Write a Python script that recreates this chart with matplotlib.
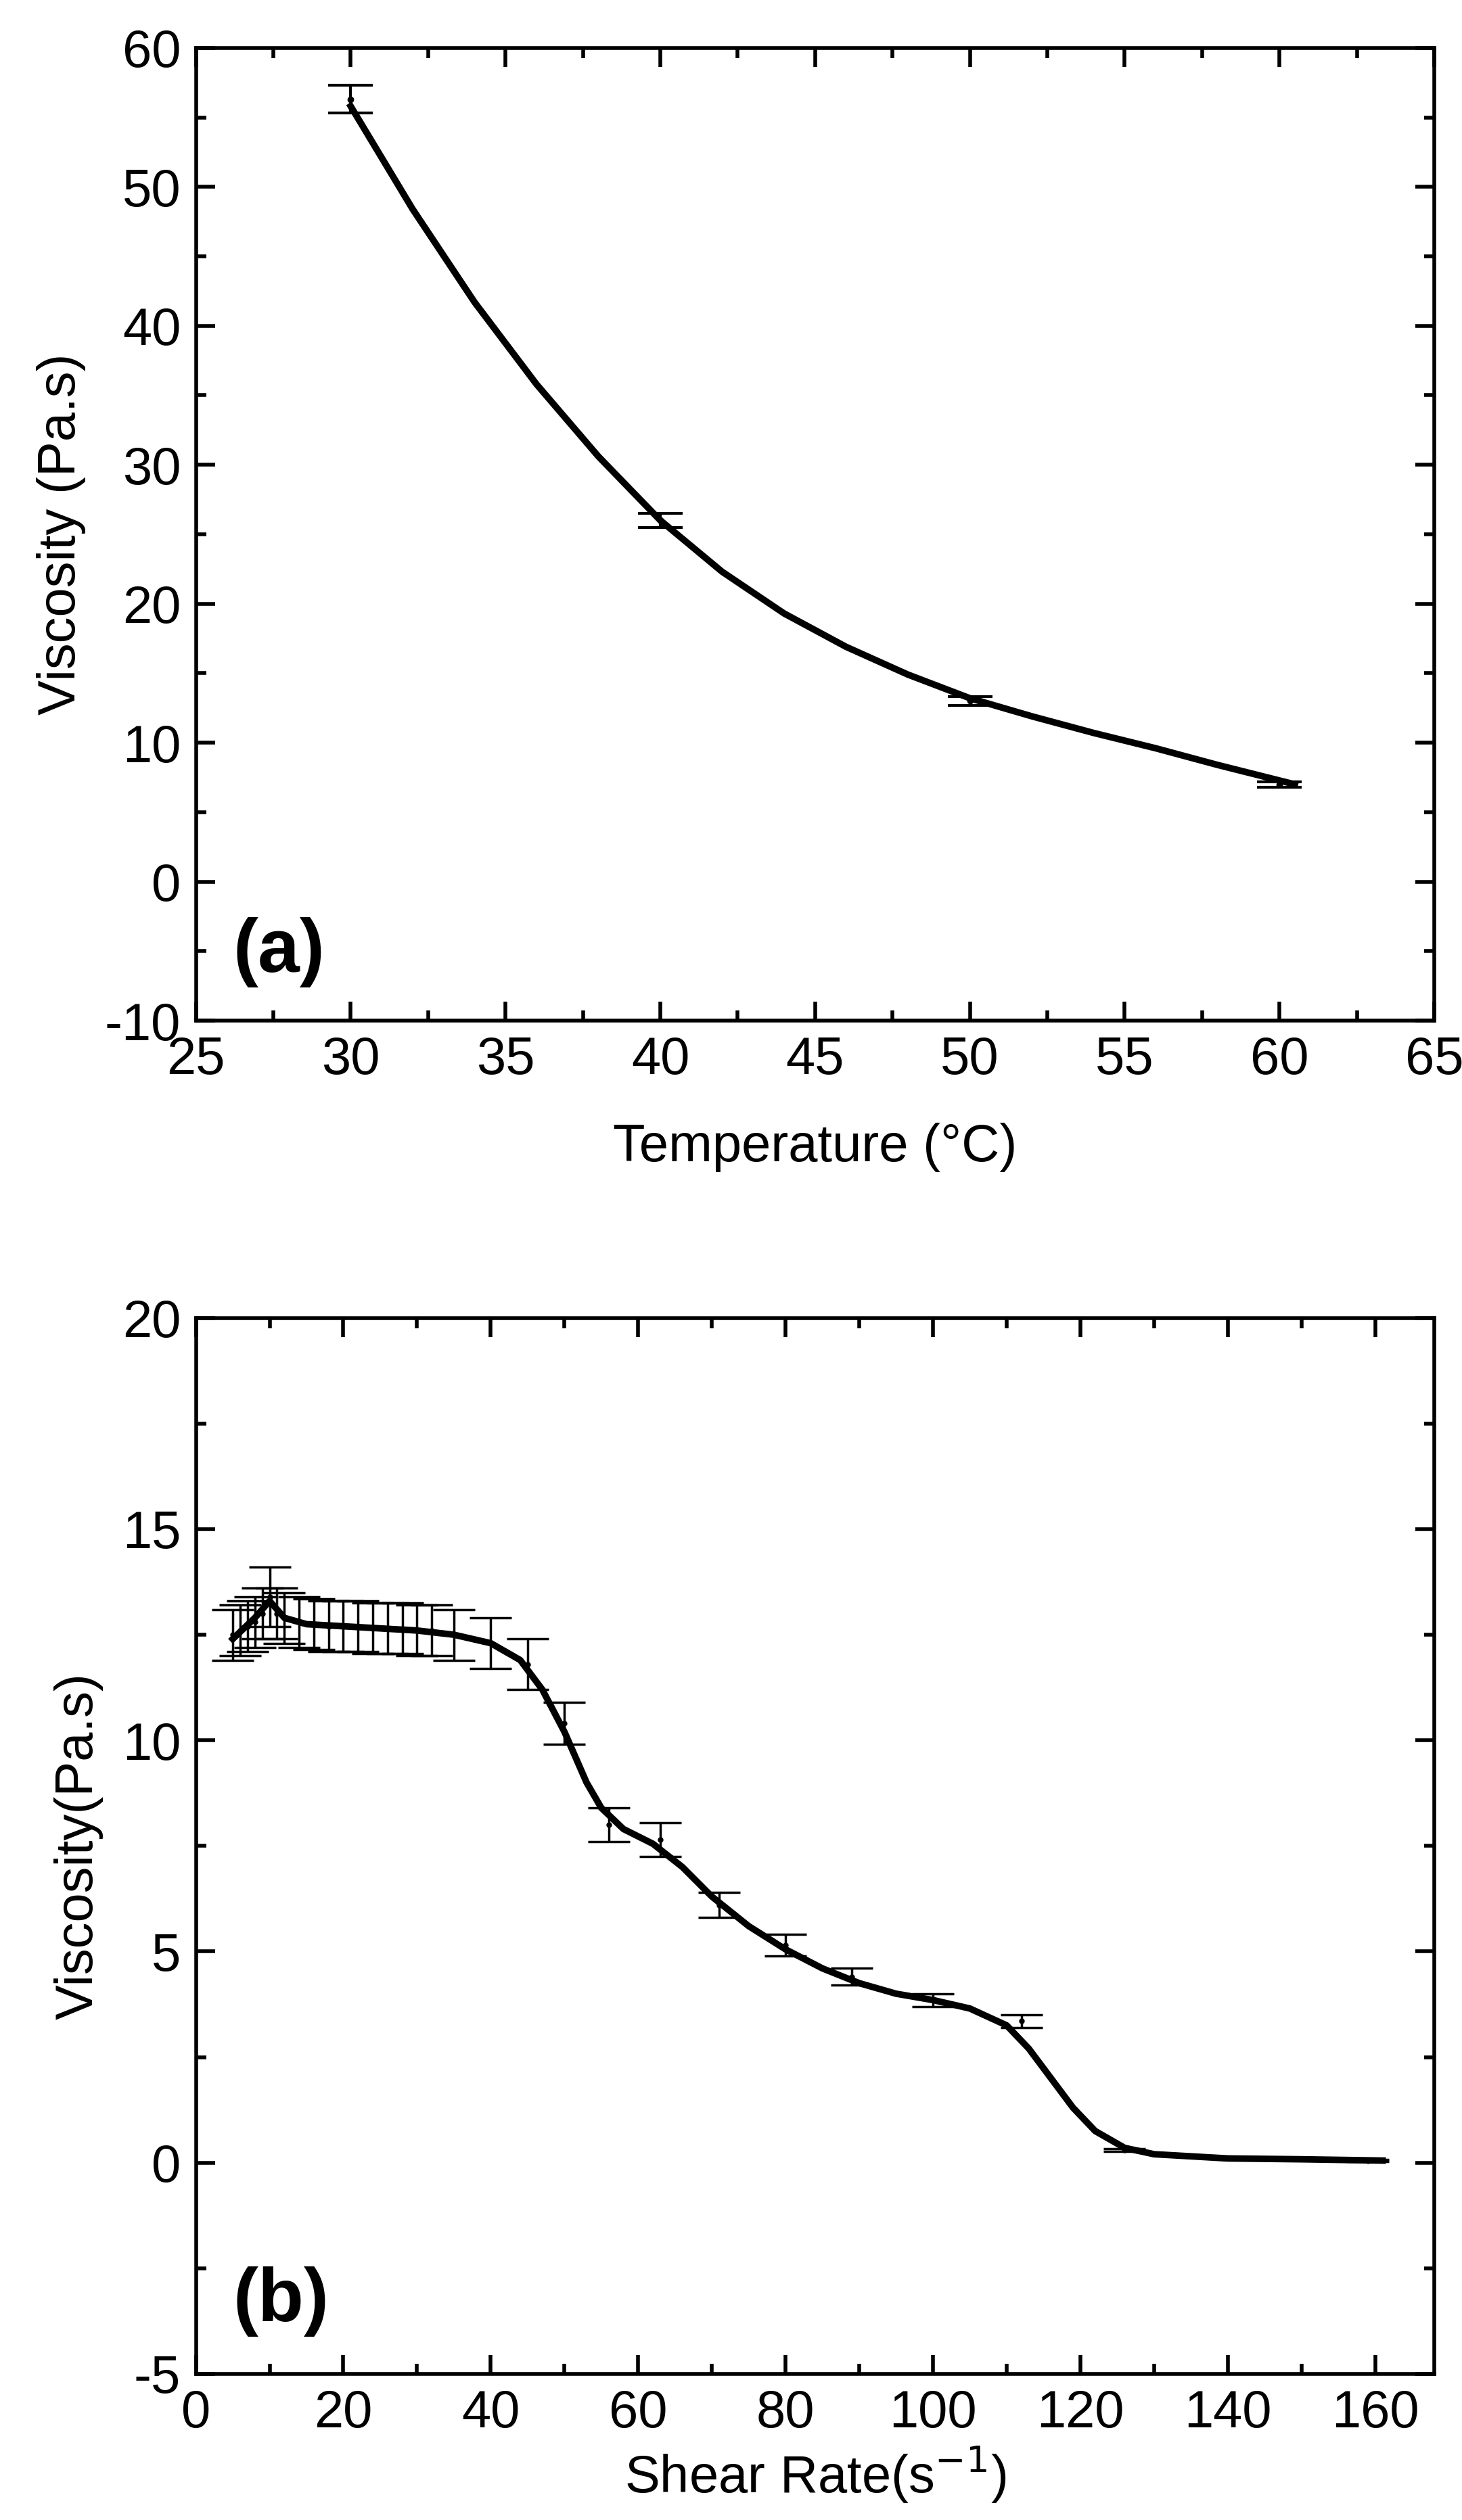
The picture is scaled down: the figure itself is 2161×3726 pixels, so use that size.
import matplotlib.pyplot as plt
from matplotlib.ticker import MultipleLocator

plt.rcParams['font.family'] = ['Liberation Sans', 'DejaVu Sans']
plt.rcParams['axes.unicode_minus'] = False

# panel (a): viscosity vs temperature
temp = [30, 40, 50, 60]
visc_a = [56.3, 26.0, 13.0, 7.0]
err_a = [1.0, 0.5, 0.3, 0.2]
fit_ta = [30, 32, 34, 36, 38, 40, 42, 44, 46, 48, 50, 52, 54, 56, 58, 60.5]
fit_va = [55.8, 48.4, 41.7, 35.8, 30.6, 26.0, 22.3, 19.3, 16.9, 14.9, 13.2, 11.9, 10.7, 9.6, 8.4, 7.0]

# panel (b): viscosity vs shear rate
rate = [5, 6, 7, 8, 9, 10, 11, 12, 14, 16, 18, 20, 22, 24, 26, 28, 30, 32,
        35, 40, 45, 50, 56, 63, 71, 80, 89, 100, 112, 126, 142, 159]
visc_b = [12.5, 12.6, 12.7, 12.8, 13.0, 13.4, 13.0, 12.9, 12.8, 12.75, 12.7, 12.7,
          12.7, 12.65, 12.65, 12.65, 12.6, 12.6, 12.5, 12.3, 11.8, 10.4, 8.0, 7.65,
          6.1, 5.15, 4.4, 3.85, 3.35, 0.3, 0.1, 0.05]
err_b = [0.6, 0.6, 0.6, 0.6, 0.6, 0.7, 0.6, 0.6, 0.6, 0.6, 0.6, 0.6, 0.6, 0.6, 0.6,
         0.6, 0.6, 0.6, 0.6, 0.6, 0.6, 0.5, 0.4, 0.4, 0.3, 0.25, 0.2, 0.15, 0.15,
         0.03, 0.02, 0.02]
fit_rb = [5, 8, 10, 12, 15, 20, 30, 35, 40, 44, 47, 50, 53, 55, 58, 62, 66, 70,
          75, 80, 85, 90, 95, 100, 105, 110, 113, 116, 119, 122, 126, 130, 140, 150, 161]
fit_vb = [12.4, 12.9, 13.3, 12.9, 12.75, 12.7, 12.6, 12.5, 12.3, 11.9, 11.2, 10.2,
          9.0, 8.4, 7.9, 7.55, 7.0, 6.3, 5.6, 5.05, 4.6, 4.25, 4.0, 3.85, 3.65, 3.25,
          2.7, 2.0, 1.3, 0.75, 0.35, 0.2, 0.1, 0.08, 0.05]

fig = plt.figure(figsize=(21.61, 37.26), dpi=100)
ax1 = fig.add_axes([0.134, 0.595, 0.847, 0.386])
ax2 = fig.add_axes([0.134, 0.058, 0.847, 0.419])

fs = 56
for ax in (ax1, ax2):
    for s in ax.spines.values():
        s.set_linewidth(4)
    ax.tick_params(which='both', direction='in', top=True, right=True,
                   width=4, labelsize=fs, pad=16)
    ax.tick_params(which='major', length=20)
    ax.tick_params(which='minor', length=11)

ax1.errorbar(temp, visc_a, yerr=err_a, fmt='o', ms=6, color='black',
             elinewidth=3, capsize=24, capthick=3)
ax1.plot(fit_ta, fit_va, color='black', lw=7)
ax1.set_xlim(25, 65)
ax1.set_ylim(-10, 60)
ax1.xaxis.set_major_locator(MultipleLocator(5))
ax1.xaxis.set_minor_locator(MultipleLocator(2.5))
ax1.yaxis.set_major_locator(MultipleLocator(10))
ax1.yaxis.set_minor_locator(MultipleLocator(5))
ax1.set_xlabel('Temperature (°C)', fontsize=fs, labelpad=40)
ax1.set_ylabel('Viscosity (Pa.s)', fontsize=fs, labelpad=20)
ax1.text(0.03, 0.05, '(a)', transform=ax1.transAxes, fontsize=80, fontweight='bold')

ax2.errorbar(rate, visc_b, yerr=err_b, fmt='o', ms=5, color='black',
             elinewidth=2.5, capsize=22, capthick=2.5)
ax2.plot(fit_rb, fit_vb, color='black', lw=7)
ax2.set_xlim(0, 168)
ax2.set_ylim(-5, 20)
ax2.xaxis.set_major_locator(MultipleLocator(20))
ax2.xaxis.set_minor_locator(MultipleLocator(10))
ax2.yaxis.set_major_locator(MultipleLocator(5))
ax2.yaxis.set_minor_locator(MultipleLocator(2.5))
ax2.set_xlabel('Shear Rate(s$^{-1}$)', fontsize=fs, labelpad=6)
ax2.set_ylabel('Viscosity(Pa.s)', fontsize=fs, labelpad=20)
ax2.text(0.03, 0.05, '(b)', transform=ax2.transAxes, fontsize=80, fontweight='bold')

fig.savefig('out.png', dpi=100)
